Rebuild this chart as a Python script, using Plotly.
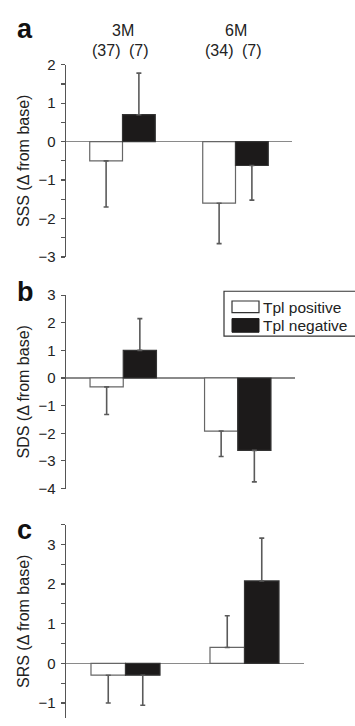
import plotly.graph_objects as go

# ---------------- data ----------------
timepoints = ["3M", "6M"]
groups = ["Tpl positive", "Tpl negative"]
n_labels_3M = ["(37)", "(7)"]
n_labels_6M = ["(34)", "(7)"]

# panel a: SSS
sss_pos = [-0.5, -1.6]
sss_pos_err = [1.2, 1.05]
sss_neg = [0.7, -0.62]
sss_neg_err = [1.08, 0.9]

# panel b: SDS
sds_pos = [-0.32, -1.92]
sds_pos_err = [1.0, 0.92]
sds_neg = [1.0, -2.62]
sds_neg_err = [1.15, 1.14]

# panel c: SRS
srs_pos = [-0.3, 0.4]
srs_pos_err = [0.7, 0.8]
srs_neg = [-0.3, 2.08]
srs_neg_err = [0.76, 1.08]

y_titles = ["SSS (Δ from base)", "SDS (Δ from base)", "SRS (Δ from base)"]
panel_letters = ["a", "b", "c"]
y_ranges = [[-3, 2], [-4, 3], [-1.38, 3.5]]
y_tickvals = [[-3, -2, -1, 0, 1, 2], [-4, -3, -2, -1, 0, 1, 2, 3], [-1, 0, 1, 2, 3]]
minor_ticks = [0.5, None, 0.5]

W, H = 355, 726
FONT = "Arial, Liberation Sans, Helvetica, sans-serif"
TXT = "#222222"
AXC = "#555555"
BAR_EDGE = "#666666"
ERRC = "#5a5a5a"

# pixel geometry per panel (left, right, top, bottom)
panels_px = [(66, 292, 57, 254), (66, 295, 293, 491), (66, 304, 528, 726)]
letter_y = [20, 290, 533]


def err(vals, errs):
    up = [e if v >= 0 else 0 for v, e in zip(vals, errs)]
    down = [e if v < 0 else 0 for v, e in zip(vals, errs)]
    return up, down


data_sets = [
    (sss_pos, sss_pos_err, sss_neg, sss_neg_err),
    (sds_pos, sds_pos_err, sds_neg, sds_neg_err),
    (srs_pos, srs_pos_err, srs_neg, srs_neg_err),
]

fig = go.Figure()
BARGAP = 0.42
xvals = list(range(len(timepoints)))

for i, (pv, pe, nv, ne) in enumerate(data_sets):
    xa = "x" if i == 0 else f"x{i+1}"
    ya = "y" if i == 0 else f"y{i+1}"
    for vals, errs, color, name in [(pv, pe, "white", groups[0]), (nv, ne, "#1c1a1a", groups[1])]:
        up, down = err(vals, errs)
        fig.add_trace(go.Bar(
            x=xvals, y=vals, name=name, xaxis=xa, yaxis=ya, showlegend=False,
            offsetgroup=name, hoverinfo="skip",
            marker=dict(color=color, line=dict(color=BAR_EDGE if color == "white" else "#333333", width=1.2)),
            error_y=dict(type="data", symmetric=False, array=up, arrayminus=down,
                         color=ERRC, thickness=1.6, width=2.5),
        ))

layout = dict(
    width=W, height=H,
    margin=dict(l=0, r=0, t=0, b=0),
    paper_bgcolor="white", plot_bgcolor="white",
    barmode="group", bargap=BARGAP, bargroupgap=0,
    font=dict(family=FONT, color=TXT, size=15),
    showlegend=False,
)

annotations = []
shapes = []
for i in range(3):
    l, r, t, b = panels_px[i]
    xk = "xaxis" if i == 0 else f"xaxis{i+1}"
    yk = "yaxis" if i == 0 else f"yaxis{i+1}"
    yanchor_name = "y" if i == 0 else f"y{i+1}"
    xanchor_name = "x" if i == 0 else f"x{i+1}"
    layout[xk] = dict(domain=[l / W, r / W], range=[-0.5, 1.5], visible=False,
                      anchor=yanchor_name, fixedrange=True)
    yax = dict(domain=[1 - b / H, 1 - t / H], range=y_ranges[i], anchor=xanchor_name,
               tickvals=y_tickvals[i], ticktext=["−" + str(abs(v)) if v < 0 else str(v) for v in y_tickvals[i]],
               ticks="outside", ticklen=4, tickcolor=AXC, tickwidth=1.2,
               showline=True, linecolor=AXC, linewidth=1.5, fixedrange=True,
               showgrid=False, zeroline=True, zerolinecolor="#8a8a8a", zerolinewidth=1.5,
               tickfont=dict(size=15, color=TXT), ticklabelstandoff=2,
               title=dict(text=y_titles[i], font=dict(size=16, color=TXT), standoff=5))
    if minor_ticks[i]:
        yax["minor"] = dict(dtick=minor_ticks[i], ticks="outside", ticklen=4, tickcolor=AXC, tickwidth=1.2)
    layout[yk] = yax
    annotations.append(dict(text=f"<b>{panel_letters[i]}</b>", xref="paper", yref="paper",
                            x=15 / W, y=1 - letter_y[i] / H,
                            xanchor="left", yanchor="middle", showarrow=False,
                            font=dict(size=27, color="#111111")))

# group headers on panel a
group_width = 1 - BARGAP
offs = [-group_width / 4, group_width / 4]
for k, (tp, nlab) in enumerate(zip(timepoints, [n_labels_3M, n_labels_6M])):
    annotations.append(dict(text=tp, xref="x", yref="paper", x=xvals[k], y=1 - 22 / H,
                            showarrow=False, font=dict(size=16, color=TXT), yanchor="middle"))
    for j, lab in enumerate(nlab):
        annotations.append(dict(text=lab, xref="x", yref="paper", x=xvals[k] + offs[j], y=1 - 43 / H,
                                showarrow=False, font=dict(size=16, color=TXT), yanchor="middle"))

# legend (custom, in panel b)
shapes.append(dict(type="rect", xref="paper", yref="paper",
                   x0=224 / W, x1=1.01, y0=1 - 335 / H, y1=1 - 289 / H,
                   line=dict(color="#333333", width=1.2), fillcolor="rgba(0,0,0,0)"))
shapes.append(dict(type="rect", xref="paper", yref="paper",
                   x0=232 / W, x1=259 / W, y0=1 - 311 / H, y1=1 - 299 / H,
                   line=dict(color="#333333", width=1.2), fillcolor="white"))
shapes.append(dict(type="rect", xref="paper", yref="paper",
                   x0=232 / W, x1=259 / W, y0=1 - 331 / H, y1=1 - 317 / H,
                   line=dict(color="#1c1a1a", width=1), fillcolor="#1c1a1a"))
for g, yc in zip(groups, [305.5, 324.5]):
    annotations.append(dict(text=g, xref="paper", yref="paper", x=261 / W, y=1 - yc / H,
                            xanchor="left", yanchor="middle", showarrow=False,
                            font=dict(size=15.5, color=TXT)))

layout["annotations"] = annotations
layout["shapes"] = shapes
fig.update_layout(**layout)
fig.write_html("out.html", config={"displayModeBar": False, "staticPlot": True},
               post_script="document.body.style.margin='0';document.body.style.overflow='hidden';")
